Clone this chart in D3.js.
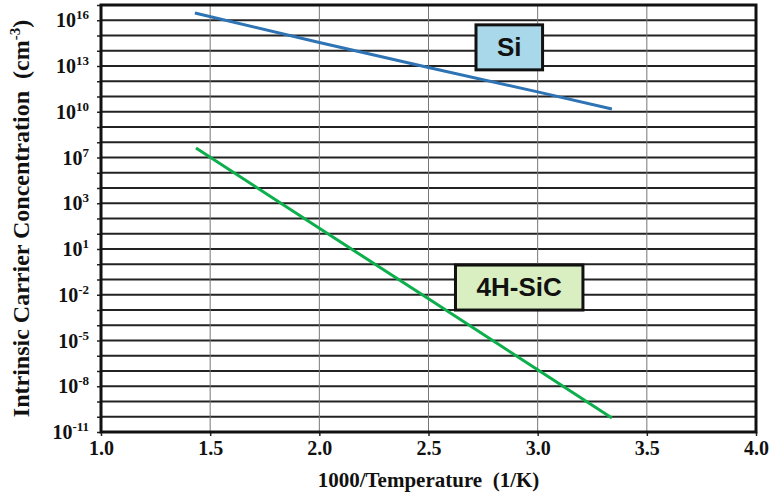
<!DOCTYPE html>
<html>
<head>
<meta charset="utf-8">
<script src="https://cdn.jsdelivr.net/npm/d3@7"></script>
<style>
  body { margin: 0; background: #fff; }
  svg { display: block; }
</style>
</head>
<body>
<script>
// values (x = 1000/T, y = cm^-3)
const siX = [1.43, 2.0, 2.5, 3.0, 3.34];
const siY = [3.0e16, 3.5e14, 8e12, 2e11, 1.5e10];
const sicX = [1.435, 2.0, 2.5, 3.0, 3.34];
const sicY = [4.2e7, 2.3e2, 5.4e-3, 1.2e-7, 8.3e-11];

const xTicks = [1.0, 1.5, 2.0, 2.5, 3.0, 3.5, 4.0];
const yTickExps = [16, 13, 10, 7, 4, 1, -2, -5, -8, -11];
const yTickLabels = ["16", "13", "10", "7", "3", "1", "-2", "-5", "-8", "-11"];
const notes = [
  {text: "Si", x: 2.87, y: 1.8e14, fill: "#a8d8ea"},
  {text: "4H-SiC", x: 2.915, y: 3.2e-2, fill: "#d9efc2"}
];

const width = 775, height = 496;
const margin = {top: 5, right: 19, bottom: 64, left: 101};
const iw = width - margin.left - margin.right;
const ih = height - margin.top - margin.bottom;

const svg = d3.select("body").append("svg")
  .attr("width", width)
  .attr("height", height);
const g = svg.append("g")
  .attr("transform", `translate(${margin.left},${margin.top})`);

const x = d3.scaleLinear().domain([1, 4]).range([0, iw]);
const y = d3.scaleLog().domain([1e-11, 1e17]).range([ih, 0]);

const serif = "'Liberation Serif', 'Times New Roman', serif";

// horizontal grid, one per decade
const decades = d3.range(-10, 17).map(e => Math.pow(10, e));
g.append("g").selectAll("line")
  .data(decades)
  .join("line")
  .attr("x1", 0).attr("x2", iw)
  .attr("y1", d => y(d)).attr("y2", d => y(d))
  .attr("stroke", "#222").attr("stroke-width", 1.8);

// vertical grid
g.append("g").selectAll("line")
  .data(xTicks.slice(1, -1))
  .join("line")
  .attr("x1", d => x(d)).attr("x2", d => x(d))
  .attr("y1", 0).attr("y2", ih)
  .attr("stroke", "#777").attr("stroke-width", 1);

// axes
const xAxis = g.append("g")
  .attr("transform", `translate(0,${ih})`)
  .call(d3.axisBottom(x).tickValues(xTicks).tickFormat(d3.format(".1f")).tickSize(4).tickPadding(5));
xAxis.select(".domain").remove();
xAxis.selectAll("line").attr("stroke", "#222").attr("stroke-width", 1.5);
xAxis.selectAll("text")
  .attr("font-family", serif).attr("font-weight", "bold").attr("font-size", 20).attr("fill", "#111");

const yAxis = g.append("g")
  .call(d3.axisLeft(y).tickValues(d3.range(-11, 18).map(e => Math.pow(10, e))).tickFormat("").tickSize(4));
yAxis.select(".domain").remove();
yAxis.selectAll("line").attr("stroke", "#222").attr("stroke-width", 1.5);

const yl = g.append("g").selectAll("text")
  .data(yTickExps)
  .join("text")
  .attr("x", -12)
  .attr("y", d => y(Math.pow(10, d)) + 7)
  .attr("text-anchor", "end")
  .attr("font-family", serif).attr("font-weight", "bold").attr("fill", "#111");
yl.append("tspan").attr("font-size", 20).text("10");
yl.append("tspan").attr("font-size", 13).attr("dy", -8).text((d, i) => yTickLabels[i]);

// frame
g.append("rect")
  .attr("width", iw).attr("height", ih)
  .attr("fill", "none").attr("stroke", "#111").attr("stroke-width", 3);

// series
const line = d3.line().x(d => x(d[0])).y(d => y(d[1]));
g.append("path")
  .datum(d3.zip(siX, siY))
  .attr("d", line)
  .attr("fill", "none").attr("stroke", "#2e74b5").attr("stroke-width", 3);
g.append("path")
  .datum(d3.zip(sicX, sicY))
  .attr("d", line)
  .attr("fill", "none").attr("stroke", "#0caf4c").attr("stroke-width", 3);

// labelled boxes
const nb = g.append("g").selectAll("g")
  .data(notes)
  .join("g")
  .attr("transform", d => `translate(${x(d.x)},${y(d.y)})`);
nb.append("text")
  .attr("text-anchor", "middle").attr("dy", "0.36em")
  .attr("font-family", "'Liberation Sans', Arial, sans-serif")
  .attr("font-weight", "bold").attr("font-size", 26).attr("fill", "#111")
  .text(d => d.text)
  .each(function(d) {
    const b = this.getBBox();
    d3.select(this.parentNode).insert("rect", "text")
      .attr("x", b.x - 21).attr("y", -22)
      .attr("width", b.width + 42).attr("height", 45)
      .attr("fill", d.fill).attr("stroke", "#111").attr("stroke-width", 3);
  });

// axis titles
svg.append("text")
  .attr("x", margin.left + iw / 2).attr("y", 487)
  .attr("text-anchor", "middle")
  .attr("font-family", serif).attr("font-weight", "bold").attr("font-size", 21).attr("fill", "#111")
  .attr("xml:space", "preserve")
  .text("1000/Temperature  (1/K)");

const yt = svg.append("text")
  .attr("transform", `translate(29,${margin.top + ih / 2}) rotate(-90)`)
  .attr("text-anchor", "middle")
  .attr("font-family", serif).attr("font-weight", "bold").attr("font-size", 24).attr("fill", "#111")
  .attr("xml:space", "preserve");
yt.append("tspan").text("Intrinsic Carrier Concentration  (cm");
yt.append("tspan").attr("font-size", 15).attr("dy", -9).text("-3");
yt.append("tspan").attr("dy", 9).text(")");
</script>
</body>
</html>
